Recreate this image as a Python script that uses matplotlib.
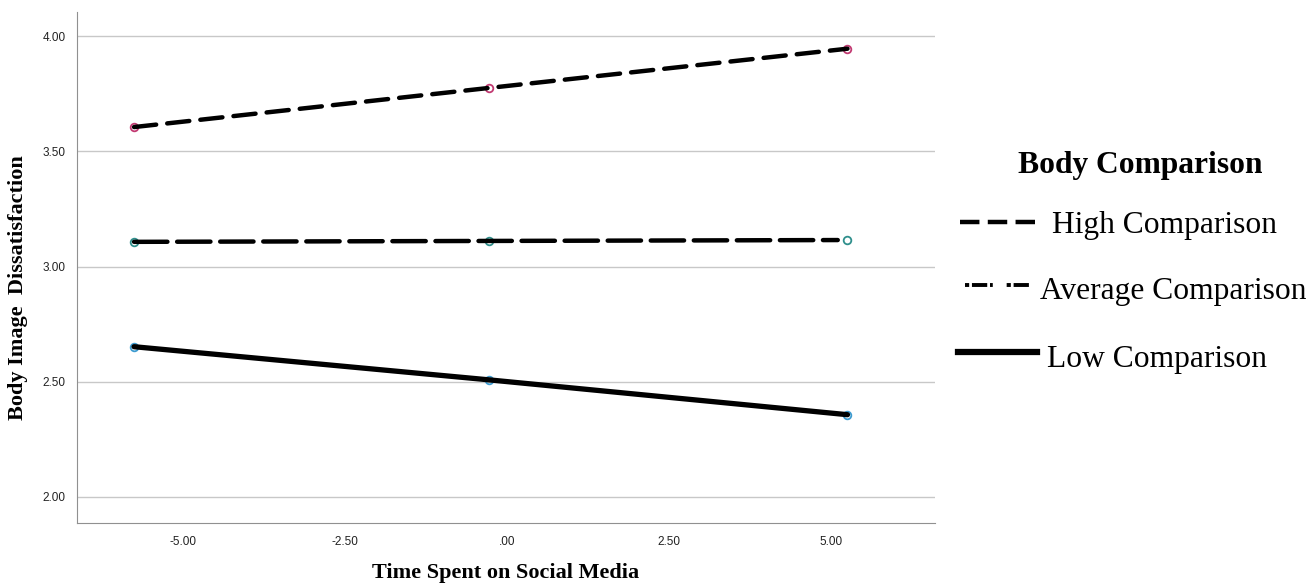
import numpy as np
import matplotlib.pyplot as plt
from matplotlib.lines import Line2D

# time spent on social media (mean -1 SD, mean, +1 SD)
time_x = [-5.75, -0.27, 5.25]

# body image dissatisfaction per comparison level
high = [3.605, 3.775, 3.945]
average = [3.107, 3.111, 3.115]
low = [2.652, 2.508, 2.357]

labels = ['High Comparison', 'Average Comparison', 'Low Comparison']
marker_colors = ['#c23a72', '#2f8f8c', '#3d9bd0']

xticks = [-5.0, -2.5, 0.0, 2.5, 5.0]
xticklabels = ['-5.00', '-2.50', '.00', '2.50', '5.00']
yticks = [2.0, 2.5, 3.0, 3.5, 4.0]
yticklabels = ['2.00', '2.50', '3.00', '3.50', '4.00']

plt.rcParams['lines.scale_dashes'] = False
serif = ['Liberation Serif', 'DejaVu Serif']

W, H = 1314, 588
fig = plt.figure(figsize=(W / 100, H / 100), dpi=100)
ax = fig.add_axes([0.0586, 0.1105, 0.653, 0.869])

ax.plot(time_x, high, color='black', lw=3.2, dashes=(16, 8), solid_capstyle='round',
        dash_capstyle='round', zorder=3)
# average line stops just short of its last point
ax.plot(time_x[0:1] + [time_x[-1] - 0.15], [average[0], average[0] + (average[-1] - average[0]) * 0.97],
        color='black', lw=3.2, dashes=(24, 7), dash_capstyle='round', zorder=3)
ax.plot(time_x, low, color='black', lw=3.8, solid_capstyle='round', zorder=3)

for ys, c in zip([high, average, low], marker_colors):
    ax.plot(time_x, ys, ls='none', marker='o', ms=5.5, mfc='none', mec=c, mew=1.3, zorder=2)

ax.set_xlim(-6.63, 6.6)
ax.set_ylim(1.887, 4.104)
ax.set_xticks(xticks)
ax.set_xticklabels(xticklabels)
ax.set_yticks(yticks)
ax.set_yticklabels(yticklabels)
ax.tick_params(length=0, labelsize=8.5, colors='#222222')
ax.tick_params(axis='x', pad=9)
ax.tick_params(axis='y', pad=8)
for lab in ax.get_xticklabels() + ax.get_yticklabels():
    lab.set_family(['Liberation Sans', 'DejaVu Sans'])

ax.grid(axis='y', color='#c8c8c8', lw=1.0)
ax.set_axisbelow(True)
ax.spines['top'].set_visible(False)
ax.spines['right'].set_visible(False)
ax.spines['left'].set_color('#909090')
ax.spines['bottom'].set_color('#909090')

ax.set_xlabel('Time Spent on Social Media', family=serif, fontweight='bold', fontsize=16, va='center')
ax.xaxis.set_label_coords(0.499, -0.098)
ax.set_ylabel('Body Image  Dissatisfaction', family=serif, fontweight='bold', fontsize=16, va='center')
ax.yaxis.set_label_coords(-0.0688, 0.46)

# hand-placed legend (entries are not left-aligned in the original)
fig.text(1140 / W, 1 - 166 / H, 'Body Comparison', family=serif, fontsize=22.7, fontweight='bold',
         ha='center', va='center')
legend_rows = [
    # (handle x0, handle x1, handle y, text x, text y, line kwargs)
    (960, 1038, 222, 1052, 226, dict(lw=3.2, dashes=(14, 6))),
    (965, 1030, 285, 1040, 291, dict(lw=2.8, dashes=(3, 2, 11, 2, 2, 10))),
    (958, 1037, 352, 1047, 359, dict(lw=4.5)),
]
for (x0, x1, hy, tx, ty, kw), lab in zip(legend_rows, labels):
    fig.add_artist(Line2D([x0 / W, x1 / W], [1 - hy / H, 1 - hy / H], color='black',
                          transform=fig.transFigure, **kw))
    fig.text(tx / W, 1 - ty / H, lab, family=serif, fontsize=22.7, ha='left', va='center')

fig.savefig('out.png', dpi=100)
